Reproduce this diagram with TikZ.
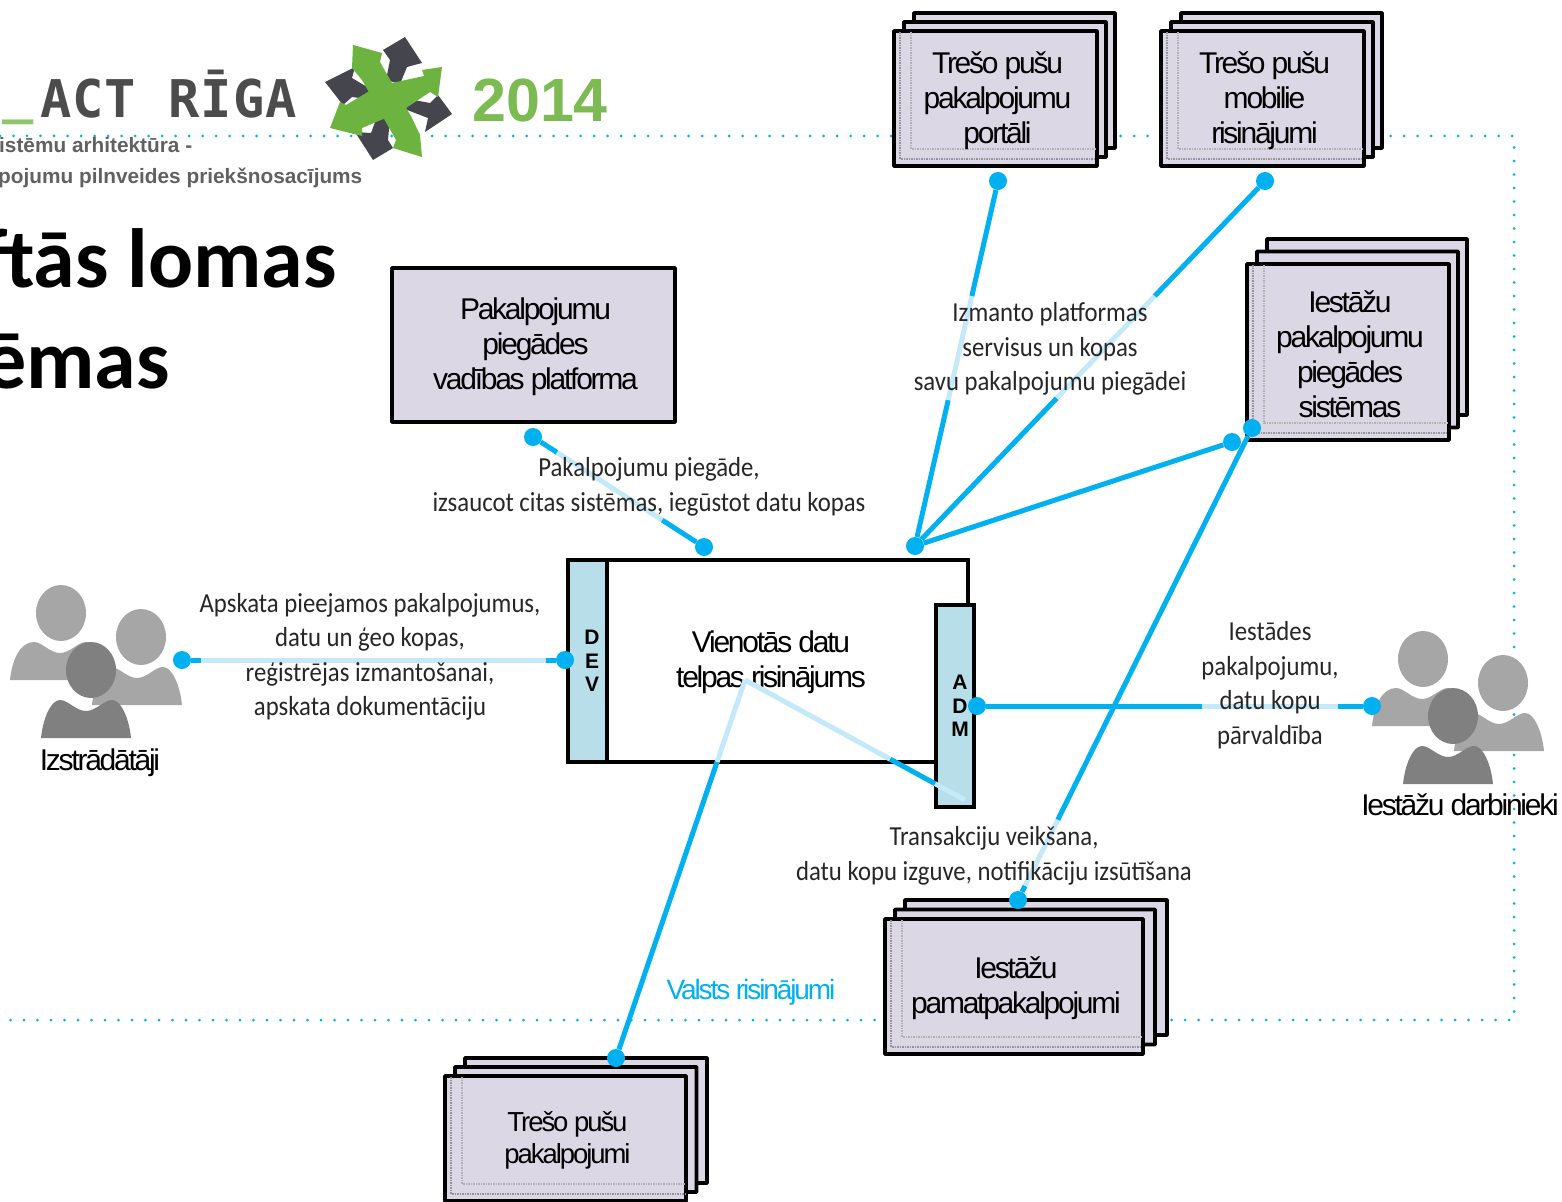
\documentclass[tikz,border=0pt]{standalone}
\usepackage{fontspec}
\usetikzlibrary{calc}
\setmainfont{Liberation Sans}
\newfontfamily\boxfont[LetterSpace=-7.5]{Liberation Sans}
\newfontfamily\labfont[FakeStretch=0.9]{Carlito}
\newfontfamily\titlefont{Carlito}
\newfontfamily\logofont[LetterSpace=2]{DejaVu Sans Mono}
\definecolor{cy}{HTML}{00B0F0}
\definecolor{pale}{HTML}{C4E9F8}
\definecolor{lil}{HTML}{DCD7E5}
\definecolor{adm}{HTML}{B8DEE9}
\definecolor{gp}{HTML}{6CB33F}
\definecolor{dk}{HTML}{45454D}
\tikzset{
 x=1pt,y=-1pt,
 boxn/.style={draw=black,line width=3.6pt,fill=lil,inner sep=0pt,rounded corners=0.5pt},
 boxt/.style={inner sep=0pt,align=center,font=\boxfont\fontsize{30}{35}\selectfont},
 mainn/.style={draw=black,line width=3.6pt,fill=white,inner sep=0pt},
 barn/.style={draw=black,line width=4pt,fill=adm,inner sep=0pt},
 bart/.style={inner sep=0pt,align=center,font=\bfseries\fontsize{21}{23.5}\selectfont},
 labn/.style={align=center,inner sep=0pt,text=black!85,font=\labfont\fontsize{27.5}{34.5}\selectfont},
 capn/.style={align=center,inner sep=0pt,font=\boxfont\fontsize{30}{35}\selectfont},
 conn/.style={cy,line width=5pt},
 paleconn/.style={pale,line width=5pt},
 dotn/.style={circle,fill=cy,inner sep=0pt,minimum size=18pt},
 framel/.style={cy,line width=3pt,line cap=round,dash pattern=on 0pt off 13.5pt},
 subn/.style={anchor=base west,inner sep=0pt,text=black!62,font=\bfseries\fontsize{20.8}{24}\selectfont},
 titn/.style={anchor=base east,inner sep=0pt,font=\titlefont\bfseries\fontsize{84}{90}\selectfont},
 logon/.style={anchor=base west,inner sep=0pt,font=\logofont\bfseries\fontsize{52}{54}\selectfont},
}
% name, cx, cy, w, h, step y, text, back overhang to the right, text size
\newcommand{\stackbox}[9]{%
 \node[boxn,minimum width=#4+#8-20,minimum height=#5] (#1b) at (#2+10+#8/2,#3-2*#6) {};
 \node[boxn,minimum width=#4+#8/2-10,minimum height=#5] (#1m) at (#2+5+#8/4,#3-#6) {};
 \node[boxn,minimum width=#4,minimum height=#5] (#1) at (#2,#3) {};
 \draw[black!30,line width=1.5pt,densely dotted]
   ($(#1.north west)+(19,3)$) -- ($(#1.south west)+(19,-19)$) -- ($(#1.south east)+(-3,-19)$);
 \draw[black!42,line width=1.5pt,densely dotted]
   ($(#1.north west)+(8,3)$) -- ($(#1.south west)+(8,-9)$) -- ($(#1.south east)+(-3,-9)$);
 \pgfmathsetmacro{\stacklead}{#9*1.165}%
 \node[boxt,font=\boxfont\fontsize{#9}{\stacklead}\selectfont] (#1t) at (#2+2,#3+2) {#7};
}
% head x, head y, colour, body centre x, half width, bottom y
\newcommand{\person}[6]{%
 \fill[#3] (#4-#5,#6) .. controls (#4-#5+2,#6-20) and (#4-#5+10,#6-38) .. (#4-26,#6-38)
   .. controls (#4-18,#6-38) and (#4-10,#6-27) .. (#4,#6-27)
   .. controls (#4+10,#6-27) and (#4+18,#6-38) .. (#4+26,#6-38)
   .. controls (#4+#5-10,#6-38) and (#4+#5-2,#6-20) .. (#4+#5,#6) -- cycle;
 \fill[#3] (#1,#2) ellipse [x radius=25,y radius=28];
}
\begin{document}
\begin{tikzpicture}
\useasboundingbox (0,0) rectangle (1562,1201);
% frame
\coordinate (fa) at (0,136); \coordinate (fb) at (1514,136);
\coordinate (fc) at (1514,1020); \coordinate (fd) at (0,1020);
\draw[framel] (fa) -- (fb) -- (fc) -- (fd);
% logo
\node[logon,text=gp!75!white] (lgu) at (2,113) {\_};
\node[logon,text=black!70] (lgt) at (40,118) {ACT RĪGA};
\fill[dk] (405,37) -- (422,63) -- (407,67) -- (400,84) -- (386,80) -- (390,60) -- (383,50) -- cycle;
\fill[dk] (325,82) -- (355,67) -- (352,78) -- (372,90) -- (374,100) -- (352,97) -- (343,105) -- cycle;
\fill[dk] (452,114) -- (425,132) -- (428,118) -- (402,108) -- (403,98) -- (430,103) -- (438,95) -- cycle;
\fill[dk] (373,160) -- (355,132) -- (371,133) -- (378,114) -- (390,118) -- (388,140) -- (393,148) -- cycle;
\fill[gp] (353,45) -- (382,53) -- (380,62) -- (412,118) -- (420,135) -- (422,157) -- (393,148) -- (396,140) -- (362,80) -- (352,68) -- cycle;
\fill[gp] (442,67) -- (438,97) -- (430,92) -- (400,112) -- (362,128) -- (362,136) -- (330,128) -- (340,102) -- (346,105) -- (378,86) -- (424,76) -- (422,70) -- cycle;
\node[anchor=base west,inner sep=0pt,text=gp!90!white,font=\bfseries\fontsize{61}{62}\selectfont] (lgy) at (472,122) {2014};
\node[subn] (sa) at (-1,153) {istēmu arhitektūra -};
\node[subn] (sb) at (-2,183) {pojumu pilnveides priekšnosacījums};
\node[titn] (ta) at (337,287) {ftās lomas};
\node[titn] (tb) at (170,388) {ēmas};
% people
\person{61}{613}{black!35}{60}{50}{680}
\person{141}{637}{black!35}{137}{45}{705}
\person{91}{670}{black!50}{86}{45}{738}
\person{1423}{659}{black!35}{1422}{50}{726}
\person{1503}{683}{black!35}{1499}{45}{751}
\person{1453}{716}{black!50}{1448}{45}{784}
\node[capn] (dev1) at (100,763) {Izstrādātāji};
\node[capn] (iew) at (1460,805) {Iestāžu darbinieki};
% boxes
\stackbox{portal}{995.5}{98.5}{203}{135}{9}{Trešo pušu\\pakalpojumu\\portāli}{18}{30}
\stackbox{mobile}{1262.5}{98.5}{203}{135}{9}{Trešo pušu\\mobilie\\risinājumi}{18}{30}
\stackbox{sys}{1348}{352}{202}{176}{12.5}{Iestāžu\\pakalpojumu\\piegādes\\sistēmas}{18}{30}
\stackbox{base}{1014}{986.5}{258}{135}{9.5}{Iestāžu\\pamatpakalpojumi}{24}{30}
\stackbox{third}{565.5}{1138.5}{241}{125}{9}{Trešo pušu\\pakalpojumi}{21}{27.5}
\node[boxn,minimum width=283,minimum height=154] (plat) at (533.5,345) {};
\node[boxt] (platt) at (535.5,347) {Pakalpojumu\\piegādes\\vadības platforma};
\node[mainn,minimum width=400,minimum height=202] (main) at (768,661) {};
\node[boxt] (maint) at (771,662) {Vienotās datu\\telpas risinājums};
\node[barn,minimum width=39,minimum height=202] (dev) at (587.5,661) {};
\node[bart] (devt) at (592,661) {D\\E\\V};
\node[barn,minimum width=38,minimum height=202] (admb) at (955,706) {};
\node[bart] (admt) at (960,706) {A\\D\\M};
% connector ends
\node[dotn] (hub) at (915,546) {};
\node[dotn] (dp) at (998,181) {};
\node[dotn] (dm) at (1265,181) {};
\node[dotn] (ds) at (1232,442) {};
\node[dotn] (dt) at (1252,428) {};
\node[dotn] (db) at (1018,900) {};
\node[dotn] (dpl) at (533,437) {};
\node[dotn] (dma) at (704,547) {};
\node[dotn] (dd1) at (182,660) {};
\node[dotn] (dd2) at (565,660) {};
\node[dotn] (da1) at (977,706) {};
\node[dotn] (da2) at (1372,706) {};
\node[dotn] (dth) at (616,1058) {};
\coordinate (jn) at (745,680);
\coordinate (ae) at (965,800);
% connectors
\draw[conn] (hub) -- ($(hub)!.40!(dp)$); \draw[paleconn] ($(hub)!.40!(dp)$) -- ($(hub)!.685!(dp)$); \draw[conn] ($(hub)!.685!(dp)$) -- (dp);
\draw[conn] (hub) -- ($(hub)!.405!(dm)$); \draw[paleconn] ($(hub)!.405!(dm)$) -- ($(hub)!.685!(dm)$); \draw[conn] ($(hub)!.685!(dm)$) -- (dm);
\draw[conn] (hub) -- (ds);
\draw[conn] (dma) -- ($(dma)!.245!(dpl)$); \draw[paleconn] ($(dma)!.245!(dpl)$) -- ($(dma)!.86!(dpl)$); \draw[conn] ($(dma)!.86!(dpl)$) -- (dpl);
\draw[paleconn] (dd1) -- (dd2); \draw[conn] (dd1) -- ($(dd1)!.05!(dd2)$); \draw[conn] ($(dd1)!.95!(dd2)$) -- (dd2);
\draw[conn] (da1) -- ($(da1)!.57!(da2)$); \draw[paleconn] ($(da1)!.57!(da2)$) -- ($(da1)!.914!(da2)$); \draw[conn] ($(da1)!.914!(da2)$) -- (da2);
\draw[conn] (db) -- ($(db)!.03!(dt)$); \draw[paleconn] ($(db)!.03!(dt)$) -- ($(db)!.17!(dt)$); \draw[conn] ($(db)!.17!(dt)$) -- (dt);
\draw[conn] (dth) -- ($(dth)!.783!(jn)$); \draw[paleconn] ($(dth)!.783!(jn)$) -- (jn);
\draw[paleconn] (jn) -- ($(jn)!.66!(ae)$); \draw[conn] ($(jn)!.66!(ae)$) -- ($(jn)!.864!(ae)$); \draw[paleconn] ($(jn)!.864!(ae)$) -- (ae);
% labels
\node[labn] (l1) at (370,657) {Apskata pieejamos pakalpojumus,\\datu un ģeo kopas,\\reģistrējas izmantošanai,\\apskata dokumentāciju};
\node[labn] (l2) at (649,487) {Pakalpojumu piegāde,\\izsaucot citas sistēmas, iegūstot datu kopas};
\node[labn] (l3) at (1050,349) {Izmanto platformas\\servisus un kopas\\savu pakalpojumu piegādei};
\node[labn] (l4) at (1270,685) {Iestādes\\pakalpojumu,\\datu kopu\\pārvaldība};
\node[labn] (l5) at (994,856) {Transakciju veikšana,\\datu kopu izguve, notifikāciju izsūtīšana};
\node[capn,text=cy,font=\boxfont\fontsize{28}{32}\selectfont] (l6) at (751,992) {Valsts risinājumi};
\end{tikzpicture}
\end{document}
